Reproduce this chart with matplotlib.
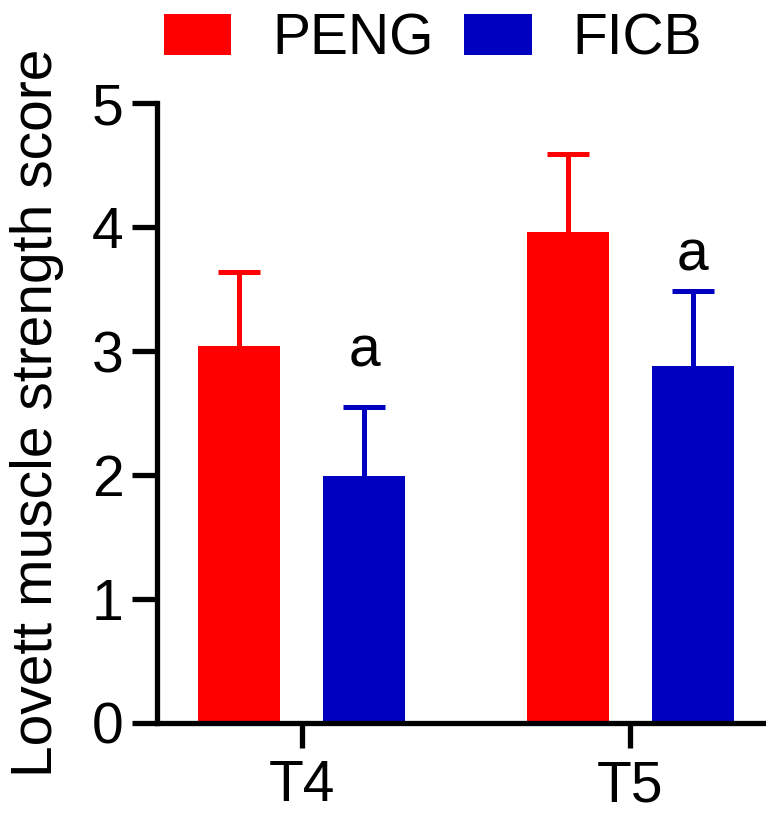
import numpy as np
import matplotlib
matplotlib.use('Agg')
import matplotlib.pyplot as plt

plt.rcParams['font.family'] = ['Liberation Sans', 'DejaVu Sans']

# data
groups = ['T4', 'T5']
peng_mean = [3.04, 3.96]
peng_sd = [0.60, 0.63]
ficb_mean = [1.99, 2.88]
ficb_sd = [0.56, 0.60]
sig_labels = ['a', 'a']
sig_y = [3.00, 3.77]

red = '#FF0000'
blue = '#0000C0'

fig = plt.figure(figsize=(7.66, 8.15), dpi=100)
ax = fig.add_axes([0.205, 0.1129, 0.795, 0.7607])

x = np.arange(len(groups))
w = 0.25
off = 0.19

ax.bar(x - off, peng_mean, w, color=red, label='PENG', zorder=2)
ax.bar(x + off, ficb_mean, w, color=blue, label='FICB', zorder=2)

# upper error bars only (no cap at the bar top)
for xs, m, sd, c in [(x - off, peng_mean, peng_sd, red), (x + off, ficb_mean, ficb_sd, blue)]:
    top = np.array(m) + np.array(sd)
    ax.vlines(xs, m, top, color=c, linewidth=3.6, zorder=1)
    ax.plot(xs, top, linestyle='none', marker='_', markersize=29.6,
            markeredgewidth=3.6, color=c, zorder=1)

for i in range(len(groups)):
    ax.text(x[i] + off, sig_y[i], sig_labels[i], ha='center', va='center', fontsize=41)

ax.set_xlim(-0.44, 1.413)
ax.set_ylim(0, 5)
ax.set_yticks([0, 1, 2, 3, 4, 5])
ax.set_xticks(x)
ax.set_xticklabels(groups)

for s in ['top', 'right']:
    ax.spines[s].set_visible(False)
for s in ['left', 'bottom']:
    ax.spines[s].set_linewidth(3.8)
    ax.spines[s].set_capstyle('projecting')

ax.tick_params(axis='both', width=3.8, length=18, labelsize=41, color='black')
ax.tick_params(axis='y', pad=6)
ax.tick_params(axis='x', pad=8)
ax.set_ylabel('Lovett muscle strength score', fontsize=41, labelpad=20)

leg = fig.legend(loc='center left', bbox_to_anchor=(0.214, 0.952), ncol=2,
                 frameon=False, fontsize=41, handlelength=1.18, handleheight=0.74,
                 handletextpad=0.72, columnspacing=0.54, borderpad=0, borderaxespad=0)

plt.savefig('out.png', dpi=100)
